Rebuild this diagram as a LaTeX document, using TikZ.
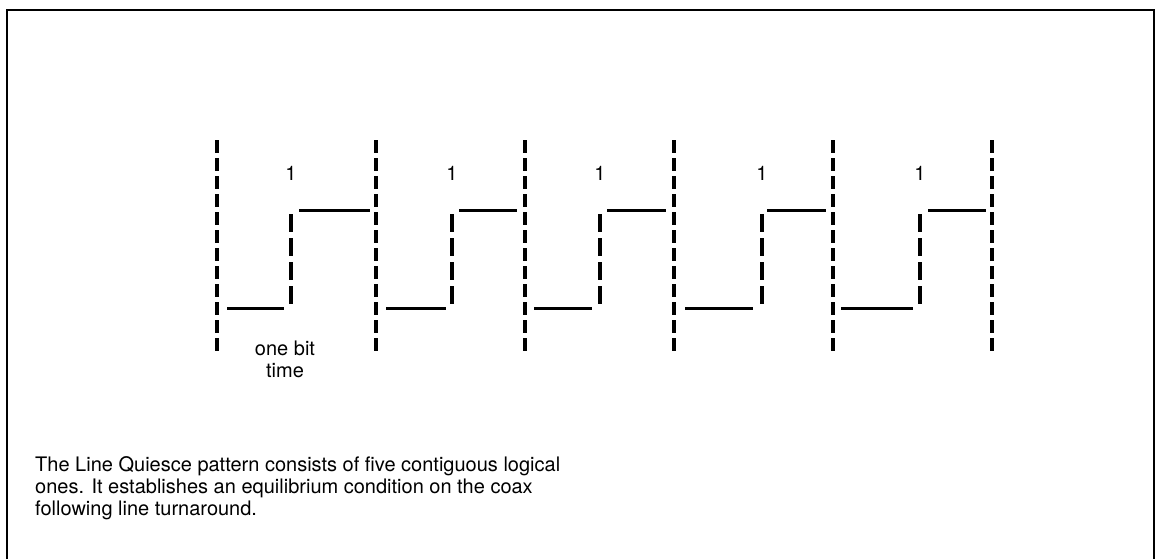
\documentclass[tikz,border=0pt]{standalone}
\usepackage{fontspec}
\setmainfont{TeX Gyre Heros}
\begin{document}
\begin{tikzpicture}[x=1pt,y=-1pt,
  frame/.style={line width=2.3pt,black},
  bound/.style={line width=3.2pt,dash pattern=on 13pt off 5pt},
  trans/.style={line width=3.2pt,dash pattern=on 18pt off 6pt},
  level/.style={line width=3pt},
  lbl/.style={inner sep=0pt,font=\fontsize{20}{22}\selectfont}]
\useasboundingbox (0,0) rectangle (1158,559);
\fill[white] (0,0) rectangle (1158,559);
\draw[frame] (7,559) -- (7,10) -- (1154,10) -- (1154,559);
% boundaries
\foreach \b [count=\i from 0] in {217,376,525,674,833,992}{
  \coordinate (bt\i) at (\b,140);
  \coordinate (bb\i) at (\b,355);
  \draw[bound] (bt\i) -- (bb\i);
}
% cells: low start, low end, transition, high start, high end
\foreach \ls/\le/\t/\hs/\he [count=\i] in
  {227/284/291/299/370, 386/446/452/459/517, 534/592/600/607/666,
   685/753/762/767/826, 841/913/920/928/986}{
  \coordinate (l\i a) at (\ls,308);
  \coordinate (l\i b) at (\le,308);
  \coordinate (h\i a) at (\hs,210);
  \coordinate (h\i b) at (\he,210);
  \coordinate (t\i a) at (\t,214);
  \coordinate (t\i b) at (\t,307);
  \draw[level] (l\i a) -- (l\i b);
  \draw[level] (h\i a) -- (h\i b);
  \draw[trans] (t\i a) -- (t\i b);
  \node[lbl] (one\i) at (\t,173) {1};
}
\node[lbl,align=center,font=\fontsize{20}{22}\selectfont] (bit) at (285,359) {one bit\\time};
\node[lbl,anchor=north west,align=left,font=\fontsize{20}{22}\selectfont] (cap) at (35,456)
 {The Line Quiesce pattern consists of five contiguous logical\\
  ones. It establishes an equilibrium condition on the coax\\
  following line turnaround.};
\end{tikzpicture}
\end{document}
